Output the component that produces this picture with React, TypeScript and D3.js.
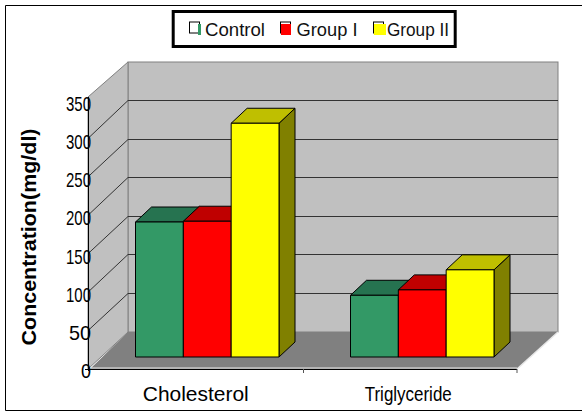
import React from "react";
import * as d3 from "d3";

const categories = ["Cholesterol", "Triglyceride"];
const seriesNames = ["Control", "Group I", "Group II"];
const control = [175, 80];
const groupI = [176, 87];
const groupII = [303, 113];
const ticks = [0, 50, 100, 150, 200, 250, 300, 350];

const faceColors = ["#339966", "#ff0000", "#ffff00"];
const topColors = ["#267350", "#bf0000", "#bfbf00"];
const sideColors = ["#1a4d33", "#800000", "#808000"];

const W = 582, H = 412;
const frontLeft = 90, frontRight = 517, frontY = 369;
const depthX = 39, depthY = 37;
const barDX = 16, barDY = 15;
const barBaseY = 357;

const y = d3.scaleLinear().domain([0, 350]).range([270, 0]);
const xAxis = d3.scaleBand<string>().domain(categories).range([frontLeft, frontRight]);
const x0 = d3.scaleBand<string>().domain(categories).range([89.5, 519.5]);
const x1 = d3.scaleBand<string>().domain(seriesNames).range([0, 143.5]);
const labelY = d3.scaleLinear().domain([0, 350]).range([378, 111]);
const hOf = (v: number) => 270 - y(v);
const font = "Liberation Sans, Arial, sans-serif";
const seriesValues = [control, groupI, groupII];

export default function App() {
  const backLeft = frontLeft + depthX - 1;
  const backRight = frontRight + depthX + 2;
  const backBottom = frontY - depthY;
  const top = backBottom - hOf(350);
  const leftX = 88;
  return (
    <svg width={W} height={H} style={{ position: "absolute", left: 0, top: 0, display: "block" }} fontFamily={font}>
      <rect width={W} height={H} fill="#fff" />
      <path d={`M${W},5.5 H5.5 V410.5 H${W}`} fill="none" stroke="#000" strokeWidth={1} />

      {/* walls */}
      <rect x={backLeft} y={top} width={backRight - backLeft} height={hOf(350)} fill="#c0c0c0" stroke="#808080" />
      <polygon points={`${leftX},${top + 35} ${backLeft},${top} ${backLeft},${backBottom} ${leftX},${frontY}`} fill="#c0c0c0" stroke="#808080" />
      {/* floor */}
      <polygon points={`${frontLeft},${frontY} ${backLeft},${backBottom} ${backRight},${backBottom} ${frontRight},${frontY}`} fill="#808080" stroke="none" />
      <line x1={backRight} y1={backBottom} x2={frontRight} y2={frontY} stroke="#e8e8e8" strokeWidth={1.5} />
      <line x1={frontLeft} y1={frontY} x2={frontRight} y2={frontY} stroke="#e8e8e8" strokeWidth={1} transform="translate(0,-1)" />

      {/* gridlines */}
      {ticks.map((t) => {
        const yb = Math.floor(backBottom - hOf(t)) + 0.5;
        const yf = frontY - hOf(t) * 0.9963;
        return (
          <g key={t} stroke="#333" strokeWidth={1} fill="none">
            {t > 0 && t < 350 && <line x1={backLeft} x2={backRight} y1={yb} y2={yb} />}
            {t > 0 && t < 350 && <line x1={leftX} x2={backLeft} y1={yf} y2={yb} />}
          </g>
        );
      })}

      {/* axes */}
      <line x1={leftX + 0.5} x2={leftX + 0.5} y1={top + 35} y2={frontY + 2} stroke="#000" />
      <line x1={leftX - 3} x2={frontRight} y1={frontY + 0.5} y2={frontY + 0.5} stroke="#000" />
      {[frontRight, (frontLeft + frontRight) / 2].map((tx) => (
        <line key={tx} x1={tx} x2={tx} y1={frontY} y2={frontY + 4} stroke="#555" />
      ))}

      {/* bars */}
      {categories.map((c, ci) => {
        const start = (x0(c) as number) + x0.bandwidth() / 2 - 61.5;
        return (
          <g key={c}>
            {seriesNames.map((s, si) => {
              const v = seriesValues[si][ci];
              const bx = start + (x1(s) as number);
              const bw = x1.bandwidth();
              const h = hOf(v);
              const ty = barBaseY - h;
              return (
                <g key={s} stroke="#000" strokeWidth={1} strokeLinejoin="round">
                  <polygon points={`${bx + bw},${barBaseY} ${bx + bw + barDX},${barBaseY - barDY} ${bx + bw + barDX},${ty - barDY} ${bx + bw},${ty}`} fill={sideColors[si]} />
                  <polygon points={`${bx},${ty} ${bx + barDX},${ty - barDY} ${bx + bw + barDX},${ty - barDY} ${bx + bw},${ty}`} fill={topColors[si]} />
                  <rect x={bx} y={ty} width={bw} height={h} fill={faceColors[si]} />
                </g>
              );
            })}
          </g>
        );
      })}

      {/* y tick labels */}
      {ticks.map((t) => (
        <text key={t} x={91} y={labelY(t)} textAnchor="end" fontSize={21}
          textLength={t === 0 ? 10 : t === 50 ? 22 : 25} lengthAdjust="spacingAndGlyphs" fill="#000">{t}</text>
      ))}

      {/* axis title */}
      <text transform="translate(35.5,237) rotate(-90)" textAnchor="middle" fontSize={21} fontWeight="bold"
        textLength={217} lengthAdjust="spacingAndGlyphs" fill="#000">Concentration(mg/dl)</text>

      {/* category labels */}
      {categories.map((c) => (
        <text key={c} x={(xAxis(c) as number) + xAxis.bandwidth() / 2 + (c === "Cholesterol" ? -1 : -2)} y={401} textAnchor="middle"
          fontSize={c === "Cholesterol" ? 21 : 20} textLength={c === "Cholesterol" ? 106 : 87} lengthAdjust="spacingAndGlyphs" fill="#000">{c}</text>
      ))}

      {/* legend */}
      <rect x={173.2} y={11.5} width={282} height={35} fill="#fff" stroke="#000" strokeWidth={3} />
      {seriesNames.map((s, i) => {
        const lx = [189, 280, 373][i];
        const tx = [205, 296.5, 387][i];
        const len = [60, 61, 62][i];
        return (
          <g key={s}>
            <rect x={lx + 0.5} y={22} width={10} height={11} fill="none" stroke="#000" />
            <rect x={i === 0 ? lx + 9 : lx + 1} y={24} width={i === 0 ? 3 : i === 1 ? 10 : 12} height={11} fill={faceColors[i]} />
            <text x={tx} y={36} fontSize={18.5} textLength={len} lengthAdjust="spacingAndGlyphs" fill="#111">{s}</text>
          </g>
        );
      })}
    </svg>
  );
}
